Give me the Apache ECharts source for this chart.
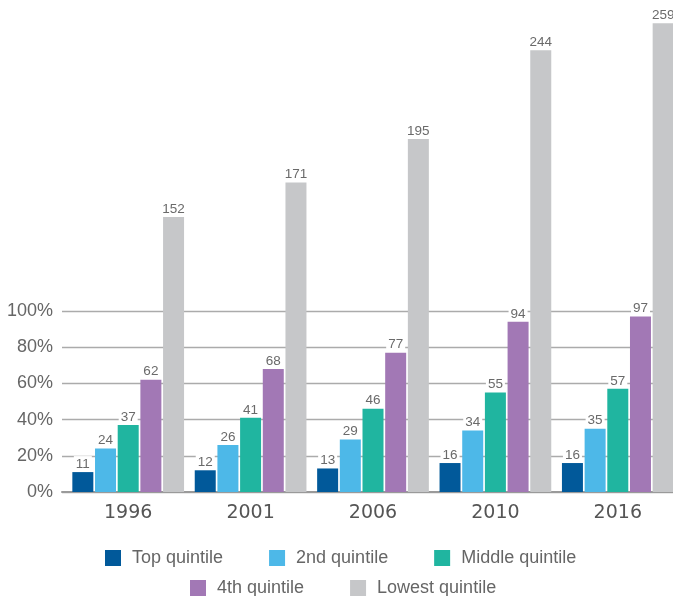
<!DOCTYPE html>
<html>
<head>
<meta charset="utf-8">
<script src="https://cdn.jsdelivr.net/npm/echarts@6/dist/echarts.min.js"></script>
<style>html,body{margin:0;padding:0;background:#fff;}#c{width:673px;height:596px;}</style>
</head>
<body>
<div id="c"></div>
<script>
var categories = ['1996', '2001', '2006', '2010', '2016'];
var seriesNames = ['Top quintile', '2nd quintile', 'Middle quintile', '4th quintile', 'Lowest quintile'];
var topQuintile = [11, 12, 13, 16, 16];
var secondQuintile = [24, 26, 29, 34, 35];
var middleQuintile = [37, 41, 46, 55, 57];
var fourthQuintile = [62, 68, 77, 94, 97];
var lowestQuintile = [152, 171, 195, 244, 259];
var yTicks = [0, 20, 40, 60, 80, 100];
var colors = ['#01599a', '#4db8e8', '#20b5a0', '#a278b5', '#c6c7c9'];

var values = [topQuintile, secondQuintile, middleQuintile, fourthQuintile, lowestQuintile];
var chart = echarts.init(document.getElementById('c'), null, {renderer: 'canvas'});
var GT = 311, GB = 596 - 492;
var series = seriesNames.map(function (n, i) {
  return {
    name: n, type: 'bar', xAxisIndex: 0, yAxisIndex: 0,
    data: values[i], barWidth: 21, barGap: '8%', clip: false,
    itemStyle: {color: colors[i]},
    label: {
      show: true, position: 'top', distance: 1,
      color: '#6a6a6a', fontFamily: 'Liberation Sans', fontSize: 13.5,
      backgroundColor: '#fff', padding: [1, 2, 0, 2]
    }
  };
});
var legendText = {color: '#666', fontFamily: 'Liberation Sans', fontSize: 18, padding: [0, 0, 0, 6]};
chart.setOption({
  animation: false,
  color: colors,
  grid: [
    {left: 67, width: 612, top: GT, bottom: GB, outerBoundsMode: 'none', containLabel: false},
    {left: 62, right: 0, top: GT, bottom: GB, outerBoundsMode: 'none', containLabel: false}
  ],
  xAxis: [
    {type: 'category', gridIndex: 0, data: categories,
      axisLine: {show: false}, axisTick: {show: false},
      axisLabel: {color: '#555', fontFamily: 'DejaVu Sans', fontSize: 19, margin: 12}},
    {type: 'value', gridIndex: 1, min: 0, max: 1,
      axisLine: {show: true, lineStyle: {color: '#9a9a9a', width: 2}},
      axisTick: {show: false}, axisLabel: {show: false}, splitLine: {show: false}}
  ],
  yAxis: [
    {type: 'value', gridIndex: 0, min: 0, max: 100, show: false, splitLine: {show: false}},
    {type: 'value', gridIndex: 1, min: yTicks[0], max: yTicks[yTicks.length - 1], interval: 20,
      axisLine: {show: false}, axisTick: {show: false},
      axisLabel: {formatter: '{value}%', color: '#666', fontFamily: 'Liberation Sans', fontSize: 18, margin: 9},
      splitLine: {show: true, lineStyle: {color: '#ababab', width: 1.3}}}
  ],
  legend: [
    {data: seriesNames.slice(0, 3), left: 100, top: 544, itemWidth: 16, itemHeight: 16, itemGap: 46,
      icon: 'rect', textStyle: legendText},
    {data: seriesNames.slice(3), left: 185, top: 574, itemWidth: 16, itemHeight: 16, itemGap: 46,
      icon: 'rect', textStyle: legendText}
  ],
  series: series
});
</script>
</body>
</html>
